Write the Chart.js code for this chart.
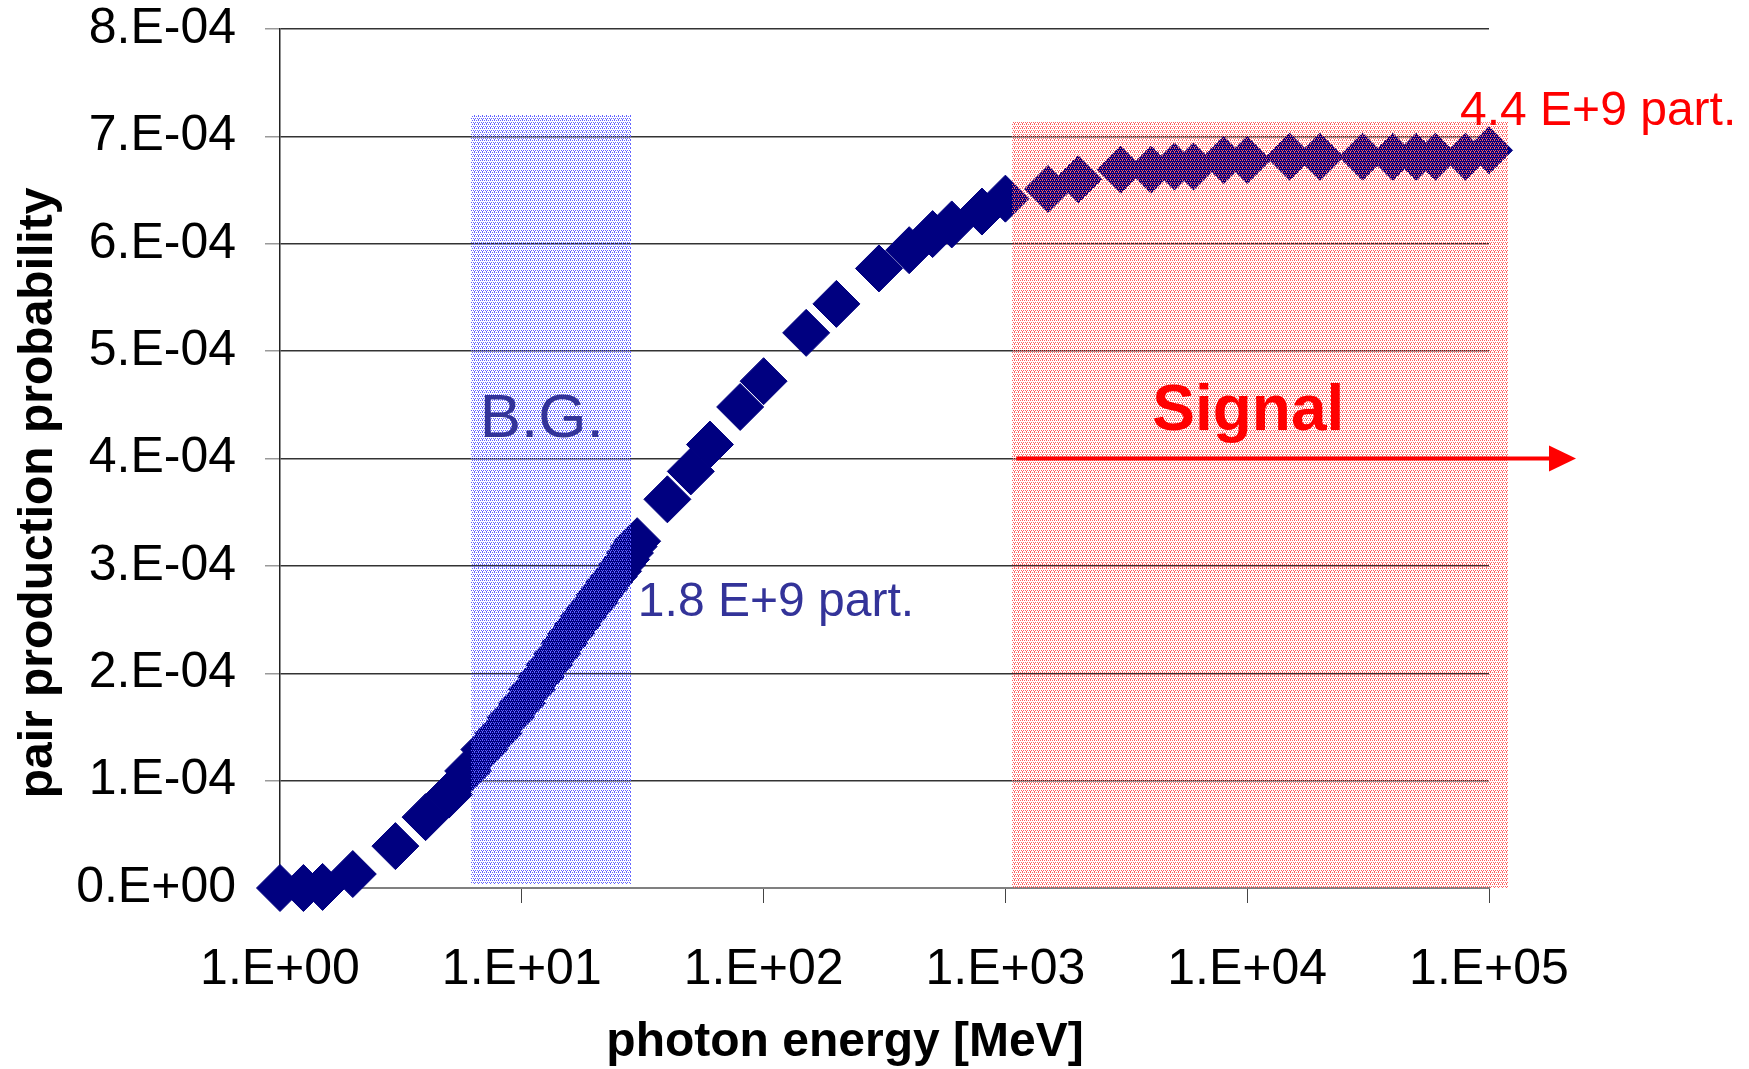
<!DOCTYPE html>
<html>
<head>
<meta charset="utf-8">
<script src="https://cdn.jsdelivr.net/npm/chart.js@4.4.1/dist/chart.umd.min.js"></script>
<style>
    html, body { margin: 0; padding: 0; background: #fff; }
    #wrap { width: 1749px; height: 1069px; }
</style>
</head>
<body>
<div id="wrap"><canvas id="chart"></canvas></div>
<script>
// photon energy [MeV]
const energy = [
    1, 1.25, 1.5, 2, 3, 4, 5, 6, 7, 8, 9, 10,
    11, 12, 13, 14, 15, 16, 17, 18, 19, 20,
    21, 22, 23, 24, 25, 26, 27, 28, 29, 30,
    40, 50, 60, 80, 100, 150, 200, 300, 400, 500, 600, 800,
    1000, 1500, 2000, 3000, 4000, 5000, 6000, 8000,
    10000, 15000, 20000, 30000, 40000, 50000, 60000, 80000, 100000
];

// pair production probability
const probability = [
    0, 0, 0.01e-4, 0.13e-4, 0.39e-4, 0.66e-4, 0.87e-4, 1.09e-4, 1.29e-4, 1.44e-4, 1.59e-4, 1.72e-4,
    1.85e-4, 1.97e-4, 2.08e-4, 2.18e-4, 2.28e-4, 2.37e-4, 2.45e-4, 2.53e-4, 2.60e-4, 2.66e-4,
    2.73e-4, 2.79e-4, 2.85e-4, 2.90e-4, 2.95e-4, 3.01e-4, 3.06e-4, 3.12e-4, 3.18e-4, 3.23e-4,
    3.62e-4, 3.88e-4, 4.13e-4, 4.48e-4, 4.72e-4, 5.17e-4, 5.44e-4, 5.77e-4, 5.94e-4, 6.09e-4, 6.18e-4, 6.30e-4,
    6.42e-4, 6.51e-4, 6.60e-4, 6.69e-4, 6.69e-4, 6.72e-4, 6.72e-4, 6.78e-4,
    6.78e-4, 6.81e-4, 6.81e-4, 6.81e-4, 6.81e-4, 6.81e-4, 6.81e-4, 6.81e-4, 6.87e-4
];

const xTickValues = [1, 10, 100, 1000, 10000, 100000];
const xTickLabels = ['1.E+00', '1.E+01', '1.E+02', '1.E+03', '1.E+04', '1.E+05'];
const yTickValues = [0, 1e-4, 2e-4, 3e-4, 4e-4, 5e-4, 6e-4, 7e-4, 8e-4];
const yTickLabels = ['0.E+00', '1.E-04', '2.E-04', '3.E-04', '4.E-04', '5.E-04', '6.E-04', '7.E-04', '8.E-04'];

// shaded energy windows: [from, to] in MeV, [bottom, top] in probability
const bgEnergy = [6.15, 28.4];
const bgProb = [0.04e-4, 7.2e-4];
const signalEnergy = [1062, 120000];
const signalProb = [0, 7.13e-4];

// signal arrow
const arrowEnergy = [1110, 229000];
const arrowProb = 4.0e-4;

const FONT = '"Liberation Sans", Arial, Helvetica, sans-serif';

function makePattern(color, cells) {
    const c = document.createElement('canvas');
    c.width = 4;
    c.height = 4;
    const g = c.getContext('2d');
    g.fillStyle = color;
    cells.forEach(([i, j]) => g.fillRect(i, j, 1, 1));
    return g.createPattern(c, 'repeat');
}

const bluePattern = makePattern('rgb(100,100,255)', [[0, 0], [2, 0], [1, 2], [3, 2], [2, 3]]);
const pinkPattern = makePattern('rgb(255,95,95)', [[0, 0], [2, 0], [1, 2], [3, 2], [2, 3]]);

function fillBand(ctx, x, y, ex, py, pattern) {
    const x0 = Math.round(x.getPixelForValue(ex[0]));
    const x1 = Math.round(x.getPixelForValue(ex[1]));
    const y0 = Math.round(y.getPixelForValue(py[1]));
    const y1 = Math.round(y.getPixelForValue(py[0]));
    ctx.fillStyle = pattern;
    ctx.fillRect(x0, y0, x1 - x0, y1 - y0);
}

const overlayPlugin = {
    id: 'overlay',
    afterDatasetsDraw(chart) {
        const { ctx, scales: { x, y } } = chart;
        ctx.save();
        fillBand(ctx, x, y, bgEnergy, bgProb, bluePattern);
        fillBand(ctx, x, y, signalEnergy, signalProb, pinkPattern);

        // arrow
        const ay = y.getPixelForValue(arrowProb);
        const ax0 = x.getPixelForValue(arrowEnergy[0]);
        const ax1 = x.getPixelForValue(arrowEnergy[1]);
        ctx.strokeStyle = '#ff0000';
        ctx.fillStyle = '#ff0000';
        ctx.lineWidth = 4;
        ctx.beginPath();
        ctx.moveTo(ax0, ay);
        ctx.lineTo(ax1 - 24, ay);
        ctx.stroke();
        ctx.beginPath();
        ctx.moveTo(ax1, ay);
        ctx.lineTo(ax1 - 27, ay - 13);
        ctx.lineTo(ax1 - 27, ay + 13);
        ctx.closePath();
        ctx.fill();

        // labels
        ctx.textBaseline = 'alphabetic';
        ctx.textAlign = 'left';
        ctx.fillStyle = '#333399';
        ctx.font = '62px ' + FONT;
        ctx.fillText('B.G.', x.getPixelForValue(6.7), y.getPixelForValue(4.2e-4));
        ctx.font = '48px ' + FONT;
        ctx.fillText('1.8 E+9 part.', x.getPixelForValue(30.2), y.getPixelForValue(2.535e-4));
        ctx.fillStyle = '#ff0000';
        ctx.fillText('4.4 E+9 part.', x.getPixelForValue(75900), y.getPixelForValue(7.11e-4));
        ctx.font = 'bold 64px ' + FONT;
        ctx.fillText('Signal', x.getPixelForValue(4050), y.getPixelForValue(4.27e-4));

        // axis titles
        ctx.fillStyle = '#000';
        ctx.font = 'bold 48px ' + FONT;
        ctx.textAlign = 'center';
        ctx.textBaseline = 'middle';
        ctx.fillText('photon energy [MeV]', 845, 1043);
        ctx.translate(39, 493);
        ctx.rotate(-Math.PI / 2);
        ctx.fillText('pair production probability', 0, 0);
        ctx.restore();
    }
};

new Chart(document.getElementById('chart'), {
    type: 'scatter',
    data: {
        datasets: [{
            data: energy.map((e, i) => ({ x: e, y: probability[i] })),
            pointStyle: 'rectRot',
            pointRadius: 23.5,
            pointHoverRadius: 23.5,
            backgroundColor: '#000080',
            borderColor: '#000080',
            borderWidth: 1,
            clip: false
        }]
    },
    options: {
        responsive: true,
        maintainAspectRatio: false,
        animation: false,
        layout: { padding: { top: 29, right: 260, left: 0, bottom: 0 } },
        plugins: {
            legend: { display: false },
            tooltip: { enabled: false }
        },
        scales: {
            x: {
                type: 'logarithmic',
                position: 'bottom',
                min: 1,
                max: 100000,
                afterBuildTicks: scale => {
                    scale.ticks = xTickValues.map(v => ({ value: v }));
                },
                afterFit: scale => { scale.height = 181; },
                grid: {
                    drawOnChartArea: false,
                    drawTicks: true,
                    tickLength: 15,
                    tickColor: '#444'
                },
                border: { color: '#808080', width: 2 },
                ticks: {
                    autoSkip: false,
                    maxRotation: 0,
                    padding: 42,
                    color: '#000',
                    font: { family: FONT, size: 50, lineHeight: 1 },
                    callback: (value, index) => xTickLabels[index]
                }
            },
            y: {
                type: 'linear',
                min: 0,
                max: 8e-4,
                afterBuildTicks: scale => {
                    scale.ticks = yTickValues.map(v => ({ value: v }));
                },
                afterFit: scale => {
                    scale.width = 280;
                    scale.paddingTop = 0;
                    scale.paddingBottom = 0;
                },
                grid: {
                    color: '#333',
                    lineWidth: 1.5,
                    tickLength: 15,
                    tickColor: '#999'
                },
                border: { color: '#222', width: 1.5 },
                ticks: {
                    padding: 29,
                    color: '#000',
                    font: { family: FONT, size: 50, lineHeight: 1 },
                    callback: (value, index) => yTickLabels[index]
                }
            }
        }
    },
    plugins: [overlayPlugin]
});
</script>
</body>
</html>
